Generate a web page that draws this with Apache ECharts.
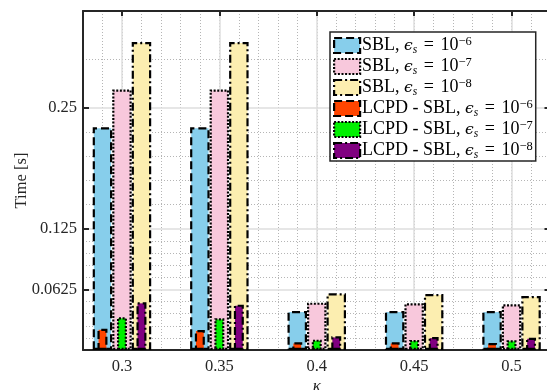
<!DOCTYPE html>
<html>
<head>
<meta charset="utf-8">
<script src="https://cdn.jsdelivr.net/npm/echarts@6/dist/echarts.min.js"></script>
<style>html,body{margin:0;padding:0;background:#fff}#c{width:547px;height:390px}</style>
</head>
<body>
<div id="c"></div>
<script>
// ---- data ----
var kappa = [0.3, 0.35, 0.4, 0.45, 0.5];
var sbl6  = [0.230, 0.230, 0.0403, 0.0403, 0.0403];
var sbl7  = [0.269, 0.269, 0.0489, 0.0482, 0.0472];
var sbl8  = [0.318, 0.318, 0.0585, 0.0578, 0.0558];
var lcpd6 = [0.0220, 0.0207, 0.0079, 0.0079, 0.0072];
var lcpd7 = [0.0338, 0.0327, 0.0107, 0.0103, 0.0100];
var lcpd8 = [0.0493, 0.0468, 0.0141, 0.0134, 0.0127];
var yTicks = [0.0625, 0.125, 0.25];
var yMinor = [0.0125, 0.025, 0.0375, 0.05, 0.075, 0.0875, 0.1, 0.1125, 0.15, 0.175, 0.2, 0.225, 0.3];
var xMinor = [0.29, 0.3, 0.31, 0.32, 0.33, 0.34, 0.35, 0.36, 0.37, 0.38, 0.39, 0.4, 0.41, 0.42, 0.43, 0.44, 0.45, 0.46, 0.47, 0.48, 0.49, 0.5, 0.51];
var names = ['SBL6', 'SBL7', 'SBL8', 'LCPD6', 'LCPD7', 'LCPD8'];
var legendText = {
  SBL6: 'SBL, {i|ϵ}{sub|s}{sp| = }10{sup|−6}',
  SBL7: 'SBL, {i|ϵ}{sub|s}{sp| = }10{sup|−7}',
  SBL8: 'SBL, {i|ϵ}{sub|s}{sp| = }10{sup|−8}',
  LCPD6: 'LCPD - SBL, {i|ϵ}{sub|s}{sp| = }10{sup|−6}',
  LCPD7: 'LCPD - SBL, {i|ϵ}{sub|s}{sp| = }10{sup|−7}',
  LCPD8: 'LCPD - SBL, {i|ϵ}{sub|s}{sp| = }10{sup|−8}'
};

function pairs(vals) { return kappa.map(function (k, i) { return [k, vals[i]]; }); }

var FONT = 'Liberation Serif';
var AX = '#262626';
var dashA = [8, 4];
var dotA = [2, 1.6];
var dashDot = [8, 3, 2, 3];
var styleOf = {
  SBL6: dashA, SBL7: dotA, SBL8: dashDot, LCPD6: dashA, LCPD7: dotA, LCPD8: dashDot
};

function sblSeries(name, vals, color, btype) {
  return {
    name: name, type: 'bar', xAxisIndex: 0, yAxisIndex: 0,
    data: pairs(vals), barWidth: 19.5, barGap: '0%', z: 3,
    itemStyle: { color: color, borderColor: '#000', borderWidth: 2.2, borderType: btype }
  };
}
function lcpdSeries(name, vals, color, btype) {
  return {
    name: name, type: 'bar', xAxisIndex: 1, yAxisIndex: 0,
    data: pairs(vals), barWidth: 10, barGap: '95%', z: 4,
    itemStyle: { color: color, borderColor: '#000', borderWidth: 2.2, borderType: btype }
  };
}

var chart = echarts.init(document.getElementById('c'), null, { renderer: 'canvas' });

chart.setOption({
  animation: false,
  backgroundColor: '#fff',
  grid: { left: 83, top: 11, width: 467.5, height: 339, containLabel: false, outerBoundsMode: 'none' },
  legend: {
    data: names.map(function (n) {
      return { name: n, itemStyle: { borderColor: '#000', borderWidth: 2.2, borderType: styleOf[n] } };
    }),
    orient: 'vertical', left: 330, top: 32,
    backgroundColor: '#fff', borderColor: AX, borderWidth: 1.5,
    padding: [3, 3, 0, 3], itemGap: 0, itemWidth: 26, itemHeight: 15,
    icon: 'rect', z: 10,
    formatter: function (n) { return legendText[n]; },
    textStyle: {
      fontFamily: FONT, fontSize: 18, color: '#000', lineHeight: 21, padding: [0, 0, 0, -3],
      rich: {
        i: { fontFamily: 'DejaVu Serif', fontStyle: 'italic', fontSize: 15.5, color: '#000', lineHeight: 21 },
        sp: { fontFamily: FONT, fontSize: 18, color: '#000', lineHeight: 21, padding: [0, 2, 0, 2] },
        sub: { fontFamily: FONT, fontStyle: 'italic', fontSize: 11.5, color: '#000', verticalAlign: 'bottom', lineHeight: 14 },
        sup: { fontFamily: FONT, fontSize: 12.5, color: '#000', verticalAlign: 'top', lineHeight: 13 }
      }
    }
  },
  xAxis: [
    {
      type: 'value', min: 0.28, max: 0.52, position: 'bottom',
      name: 'κ', nameLocation: 'middle', nameGap: 28, nameMoveOverlap: false,
      nameTextStyle: { fontFamily: FONT, fontStyle: 'italic', fontSize: 17, color: AX },
      axisLine: { show: true, onZero: false, lineStyle: { color: AX, width: 2 } },
      axisTick: { show: true, inside: true, length: 5, customValues: kappa, lineStyle: { color: AX, width: 2 } },
      axisLabel: { customValues: kappa, fontFamily: FONT, fontSize: 16.5, color: AX, margin: 8,
        formatter: function (v) { return String(+v.toFixed(2)); } },
      splitLine: { show: true, lineStyle: { color: '#dedede', width: 1.5 } },
      z: 2
    },
    {
      type: 'value', min: 0.28, max: 0.52, position: 'top',
      axisLine: { show: true, onZero: false, lineStyle: { color: AX, width: 2 } },
      axisTick: { show: true, inside: true, length: 5, customValues: kappa, lineStyle: { color: AX, width: 2 } },
      axisLabel: { show: false },
      splitLine: { show: false },
      z: 2
    },
    {
      type: 'value', min: 0.28, max: 0.52, position: 'bottom',
      axisLine: { show: false },
      axisTick: { show: false, customValues: xMinor },
      axisLabel: { show: false },
      splitLine: { show: true, lineStyle: { color: '#b5b5b5', width: 1, type: [1, 2] } },
      z: 1
    }
  ],
  yAxis: [
    {
      type: 'value', min: 0, max: 0.35, position: 'left',
      name: 'Time [s]', nameLocation: 'middle', nameGap: 53, nameMoveOverlap: false,
      nameTextStyle: { fontFamily: FONT, fontSize: 16.5, color: AX },
      axisLine: { show: true, onZero: false, lineStyle: { color: AX, width: 2 } },
      axisTick: { show: true, inside: true, length: 6, customValues: yTicks, lineStyle: { color: AX, width: 2 } },
      axisLabel: { customValues: yTicks, fontFamily: FONT, fontSize: 16.5, color: AX, margin: 6,
        formatter: function (v) { return String(v); } },
      splitLine: { show: true, lineStyle: { color: '#dedede', width: 1.5 } },
      z: 2
    },
    {
      type: 'value', min: 0, max: 0.35, position: 'right',
      axisLine: { show: true, onZero: false, lineStyle: { color: AX, width: 2 } },
      axisTick: { show: true, inside: true, length: 6, customValues: yTicks, lineStyle: { color: AX, width: 2 } },
      axisLabel: { show: false },
      splitLine: { show: false },
      z: 2
    },
    {
      type: 'value', min: 0, max: 0.35, position: 'left',
      axisLine: { show: false },
      axisTick: { show: false, customValues: yMinor },
      axisLabel: { show: false },
      splitLine: { show: true, lineStyle: { color: '#b5b5b5', width: 1, type: [1, 2] } },
      z: 1
    }
  ],
  series: [
    sblSeries('SBL6', sbl6, '#87CEEB', dashA),
    sblSeries('SBL7', sbl7, '#F8C8DC', dotA),
    sblSeries('SBL8', sbl8, '#FCEEB0', dashDot),
    lcpdSeries('LCPD6', lcpd6, '#FF4500', dashA),
    lcpdSeries('LCPD7', lcpd7, '#00F000', dotA),
    lcpdSeries('LCPD8', lcpd8, '#800080', dashDot)
  ]
});
</script>
</body>
</html>
